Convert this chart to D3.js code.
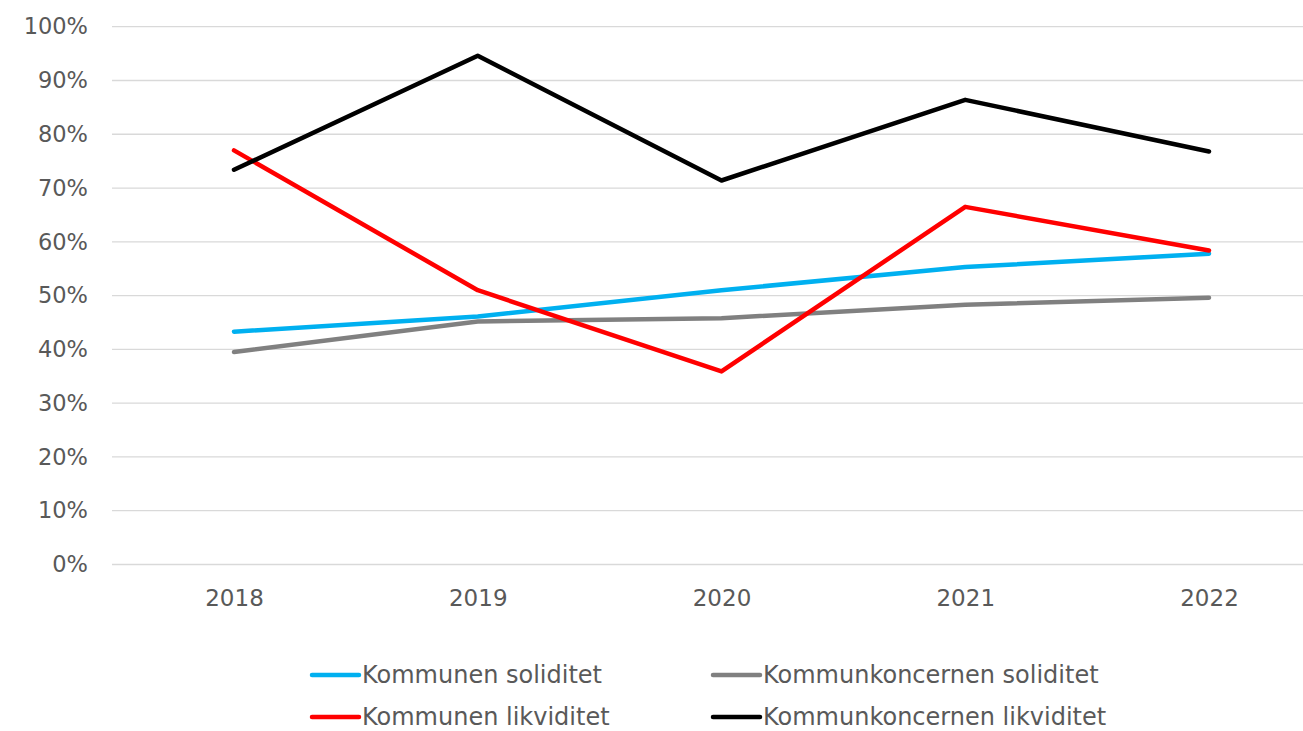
<!DOCTYPE html>
<html><head><meta charset="utf-8">
<script src="https://cdn.jsdelivr.net/npm/d3@7"></script>
<style>html,body{margin:0;padding:0;background:#fff;overflow:hidden}</style>
</head><body>
<svg id="c" width="1303" height="731"></svg>
<script>
const years = ["2018","2019","2020","2021","2022"];
const kommunenSoliditet = [43.3, 46.1, 51.0, 55.3, 57.8];
const koncernSoliditet = [39.5, 45.2, 45.8, 48.3, 49.6];
const kommunenLikviditet = [77.0, 51.0, 35.9, 66.5, 58.4];
const koncernLikviditet = [73.4, 94.6, 71.4, 86.4, 76.8];
const yTicks = [0,10,20,30,40,50,60,70,80,90,100];
const seriesNames = ["Kommunen soliditet","Kommunkoncernen soliditet","Kommunen likviditet","Kommunkoncernen likviditet"];
const seriesColors = ["#00b0f0","#808080","#ff0000","#000000"];

const series = [kommunenSoliditet, koncernSoliditet, kommunenLikviditet, koncernLikviditet]
  .map((v,i)=>({name:seriesNames[i], color:seriesColors[i], values:v}));

const svg = d3.select("#c");
const font = "'Century Gothic','URW Gothic','DejaVu Sans',sans-serif";
const x = d3.scalePoint().domain(years).range([234, 1209]);
const y = d3.scaleLinear().domain([0,100]).range([564.5, 26.7]);
const left = 112, right = 1331;

svg.append("g").selectAll("line").data(yTicks).join("line")
  .attr("x1", left).attr("x2", right)
  .attr("y1", d=>y(d)).attr("y2", d=>y(d))
  .attr("stroke","#d9d9d9").attr("stroke-width",1.3);

const yAxis = svg.append("g").attr("transform",`translate(${left},0)`)
  .call(d3.axisLeft(y).tickValues(yTicks).tickFormat(d=>d+"%").tickSize(0).tickPadding(24));
yAxis.select(".domain").remove();
yAxis.selectAll("text").attr("fill","#595959").style("font-family",font).style("font-size","22.5px");

const xAxis = svg.append("g").attr("transform",`translate(0,${y(0)})`)
  .call(d3.axisBottom(x).tickSize(0).tickPadding(25));
xAxis.select(".domain").remove();
xAxis.selectAll("text").attr("fill","#595959").style("font-family",font).style("font-size","23px");

const line = d3.line().x((d,i)=>x(years[i])).y(d=>y(d));
svg.append("g").selectAll("path").data(series).join("path")
  .attr("d", d=>line(d.values))
  .attr("fill","none").attr("stroke",d=>d.color).attr("stroke-width",4.5)
  .attr("stroke-linecap","round").attr("stroke-linejoin","round");

const legendPos = [[312,675],[713,675],[312,717],[713,717]];
const lg = svg.append("g").selectAll("g").data(series).join("g")
  .attr("transform",(d,i)=>`translate(${legendPos[i][0]},${legendPos[i][1]})`);
lg.append("line").attr("x1",0).attr("x2",47).attr("y1",0).attr("y2",0)
  .attr("stroke",d=>d.color).attr("stroke-width",4.5).attr("stroke-linecap","round");
lg.append("text").attr("x",50).attr("y",0).attr("dy","0.35em")
  .attr("fill","#595959").style("font-family",font).style("font-size","24px")
  .text(d=>d.name);
</script>
</body></html>
